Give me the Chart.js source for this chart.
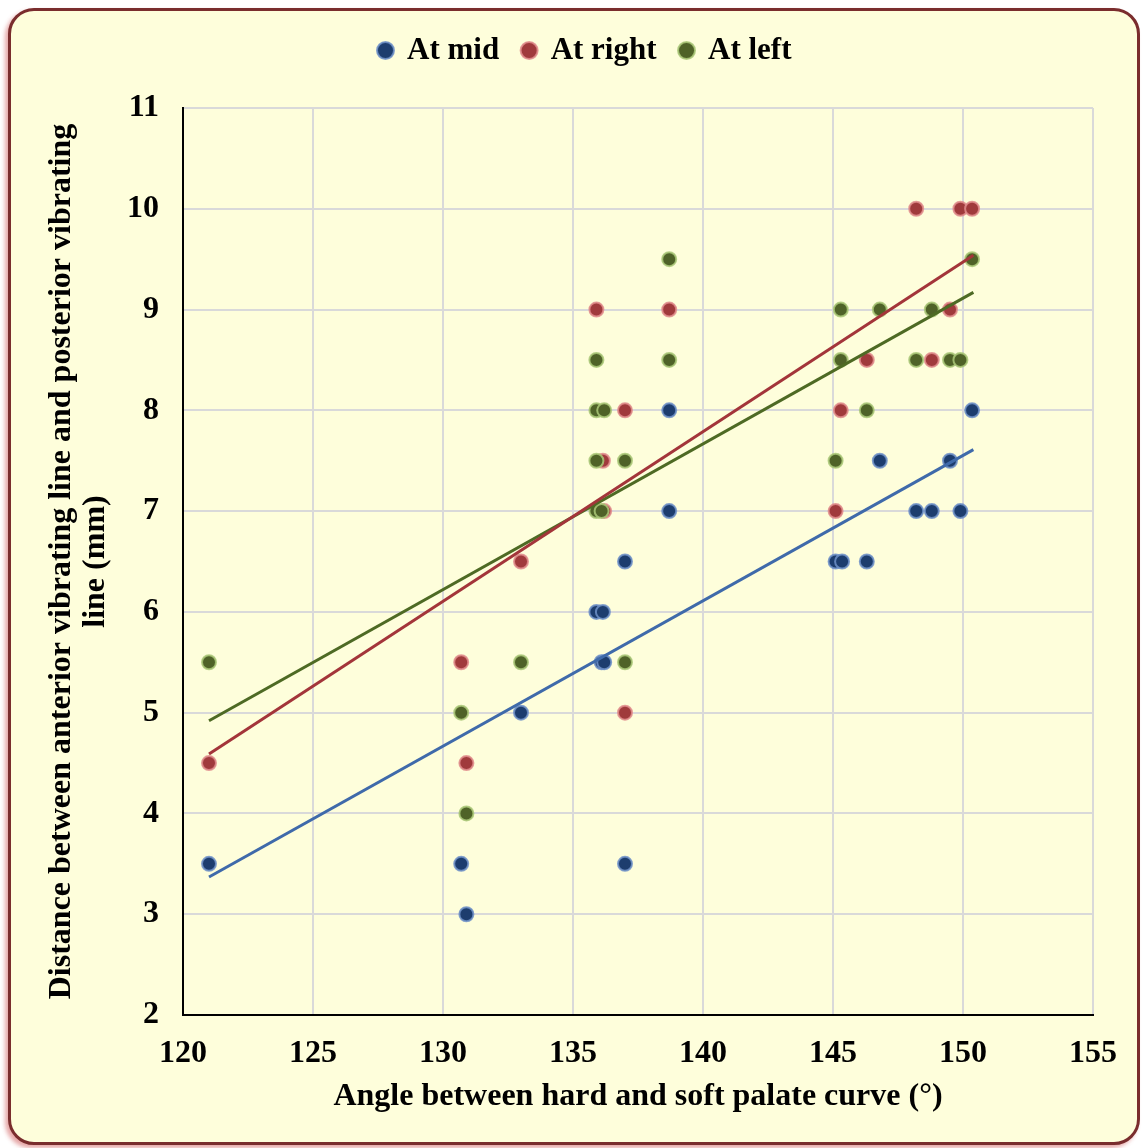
<!DOCTYPE html>
<html>
<head>
<meta charset="utf-8">
<script src="https://cdn.jsdelivr.net/npm/chart.js@4.4.1/dist/chart.umd.min.js"></script>
<style>
  html, body { margin: 0; padding: 0; background: #fff; }
  #frame {
    position: absolute; left: 8px; top: 8px;
    width: 1126px; height: 1131px;
    border: 3px solid #7a2d2d; border-radius: 26px;
    background: #fefedb;
    box-shadow: -3px 3px 4px rgba(200, 60, 60, 0.45);
    overflow: hidden;
  }
  #chart { display: block; }
</style>
</head>
<body>
<div id="frame"><canvas id="chart" width="1126" height="1131"></canvas></div>
<script>
// x = angle between hard and soft palate curve, y = distance (mm)
const midX   = [121, 130.7, 130.9, 133, 135.9, 136.15, 136.1, 136.2, 137, 137, 138.7, 138.7, 145.1, 145.35, 146.3, 146.8, 148.2, 148.8, 149.5, 149.9, 150.35];
const midY   = [3.5, 3.5,   3.0,   5.0, 6.0,   6.0,    5.5,   5.5,   6.5, 3.5, 8.0,   7.0,   6.5,   6.5,    6.5,   7.5,   7.0,   7.0,   7.5,   7.0,   8.0];

const rightX = [121, 130.7, 130.9, 133, 135.9, 136.15, 136.2, 137, 137, 138.7, 145.1, 145.3, 146.3, 148.2, 148.8, 149.5, 149.9, 150.35];
const rightY = [4.5, 5.5,   4.5,   6.5, 9.0,   7.5,    7.0,   8.0, 5.0, 9.0,   7.0,   8.0,   8.5,   10,    8.5,   9.0,   10,    10];

const leftX  = [121, 130.7, 130.9, 133, 135.9, 135.9, 136.2, 135.9, 137, 135.9, 136.1, 137, 138.7, 138.7, 145.1, 145.3, 145.3, 146.3, 146.8, 148.2, 148.8, 149.5, 149.9, 150.35];
const leftY  = [5.5, 5.0,   4.0,   5.5, 8.5,   8.0,   8.0,   7.5,   7.5, 7.0,   7.0,   5.5, 9.5,   8.5,   7.5,   9.0,   8.5,   8.0,   9.0,   8.5,   9.0,   8.5,   8.5,   9.5];

// linear trend lines, end values
const trendX      = [121, 150.4];
const trendMidY   = [3.37, 7.61];
const trendRightY = [4.59, 9.54];
const trendLeftY  = [4.92, 9.17];

const seriesNames = ["At mid", "At right", "At left"];
const xTicks = [120, 125, 130, 135, 140, 145, 150, 155];
const yTicks = [2, 3, 4, 5, 6, 7, 8, 9, 10, 11];

const FONT = '"Liberation Serif", "Times New Roman", serif';

function pts(xs, ys) {
  return xs.map((x, i) => ({ x: x, y: ys[i] }));
}

function scatter(label, xs, ys, fill, halo, order) {
  return {
    type: "scatter", label: label, data: pts(xs, ys),
    backgroundColor: fill, borderColor: halo, borderWidth: 2,
    pointRadius: 7, pointHoverRadius: 7, order: order
  };
}

function line(ys, color) {
  return {
    type: "line", label: "trend", data: pts(trendX, ys),
    borderColor: color, borderWidth: 3, pointRadius: 0, fill: false, order: 0
  };
}

// extra room under the legend, and nudge it a bit to the right
const legendGap = {
  id: "legendGap",
  beforeLayout(chart) {
    const lg = chart.legend;
    if (lg && !lg._gapped) {
      const fit = lg.fit;
      lg.fit = function () { fit.call(this); this.height += 32; };
      const draw = lg.draw;
      lg.draw = function (area) {
        const c = this.ctx;
        c.save();
        c.translate(31, 0);
        draw.call(this, area);
        c.restore();
      };
      lg._gapped = true;
    }
  }
};

const ctx = document.getElementById("chart").getContext("2d");
const chart = new Chart(ctx, {
  type: "scatter",
  data: {
    datasets: [
      scatter(seriesNames[0], midX, midY, "#1d3d6e", "rgba(110,145,200,0.85)", 3),
      scatter(seriesNames[1], rightX, rightY, "#a03a3c", "rgba(225,140,140,0.85)", 2),
      scatter(seriesNames[2], leftX, leftY, "#4f6228", "rgba(170,200,120,0.85)", 1),
      line(trendMidY, "#3f6aaa"),
      line(trendRightY, "#a3353a"),
      line(trendLeftY, "#4e6a24")
    ]
  },
  plugins: [legendGap],
  options: {
    responsive: false,
    animation: false,
    layout: { padding: { top: 0, right: 39, bottom: 0, left: 0 } },
    plugins: {
      tooltip: { enabled: false },
      legend: {
        position: "top",
        labels: {
          filter: item => item.text !== "trend",
          sort: (a, b) => a.datasetIndex - b.datasetIndex,
          usePointStyle: true,
          pointStyle: "circle",
          boxWidth: 12,
          boxHeight: 12,
          padding: 24,
          color: "#000",
          font: { family: FONT, size: 31, weight: "bold" }
        }
      }
    },
    scales: {
      x: {
        type: "linear", min: 120, max: 155,
        afterBuildTicks: s => { s.ticks = xTicks.map(v => ({ value: v })); },
        afterFit: s => { s.height = 127; },
        grid: { color: "#d9d9d9", lineWidth: 2, drawTicks: false },
        border: { color: "#000", width: 2 },
        ticks: { padding: 20, color: "#000", font: { family: FONT, size: 32, weight: "bold" } },
        title: {
          display: true, text: "Angle between hard and soft palate curve (°)",
          color: "#000", font: { family: FONT, size: 32, weight: "bold" },
          padding: { top: 0, bottom: 26 }
        }
      },
      y: {
        type: "linear", min: 2, max: 11,
        afterBuildTicks: s => { s.ticks = yTicks.map(v => ({ value: v })); },
        afterFit: s => { s.width = 172; },
        grid: { color: "#d9d9d9", lineWidth: 2, drawTicks: false },
        border: { color: "#000", width: 2 },
        ticks: { padding: 24, color: "#000", font: { family: FONT, size: 32, weight: "bold" } },
        title: {
          display: true,
          text: ["Distance between anterior vibrating line and posterior vibrating", "line (mm)"],
          color: "#000", font: { family: FONT, size: 32, weight: "bold", lineHeight: 1.05 },
          padding: { top: 34, bottom: 0 }
        }
      }
    }
  }
});
</script>
</body>
</html>
